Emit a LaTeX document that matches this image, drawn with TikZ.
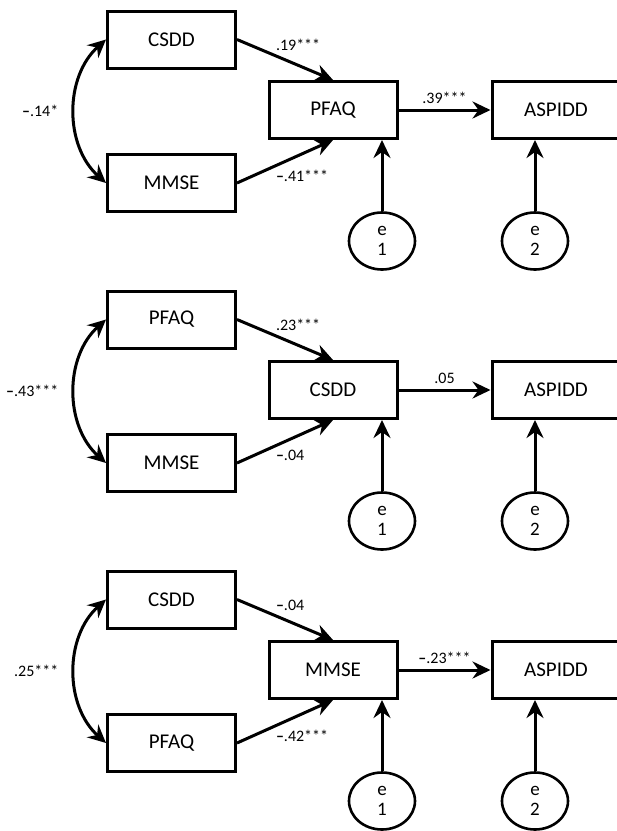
\documentclass[tikz,border=0pt]{standalone}
\usepackage{fontspec}
\setmainfont{Carlito}
\usetikzlibrary{arrows.meta,shapes.geometric}

\begin{document}
\begin{tikzpicture}[
    x=1pt, y=-1pt,
    var/.style={rectangle, draw, line width=3pt, minimum width=128pt, minimum height=57pt, inner sep=0pt, font=\fontsize{21}{24}\selectfont},
    err/.style={ellipse, draw, line width=2.6pt, minimum width=66pt, minimum height=57pt, inner sep=0pt, align=center, font=\fontsize{19}{20}\selectfont},
    reg/.style={draw, line width=3pt, -{Stealth[length=18pt, width=17pt, inset=6pt]}},
    cov/.style={draw, line width=3pt, {Stealth[length=18pt, width=17pt, inset=6pt]}-{Stealth[length=18pt, width=17pt, inset=6pt]}},
    coef/.style={font=\fontsize{16}{18}\selectfont, inner sep=2pt}
]
\useasboundingbox (0,0) rectangle (617,831);

\begin{scope}
\node[var] (csdd-a) at (171.5,39.5) {CSDD};
\node[var] (mmse-a) at (171.5,183) {MMSE};
\node[var] (pfaq-a) at (333,110) {PFAQ};
\node[var] (aspidd-a) at (556,110) {ASPIDD};
\node[err] (e1-a) at (382,241) {e\\1};
\node[err] (e2-a) at (535,241) {e\\2};
\draw[cov] (csdd-a.west) to[bend right=48] node[coef, left=13pt] {\textbf{–}.14*} (mmse-a.west);
\draw[reg] (csdd-a.east) -- node[coef, pos=.37, anchor=south west] {.19***} (pfaq-a.north);
\draw[reg] (mmse-a.east) -- node[coef, pos=.37, anchor=north west] {\textbf{–}.41***} (pfaq-a.south);
\draw[reg] (pfaq-a.east) -- node[coef, above=3pt] {.39***} (aspidd-a.west);
\draw[reg] (e1-a.north) -- (e1-a.north |- pfaq-a.south);
\draw[reg] (e2-a.north) -- (e2-a.north |- aspidd-a.south);
\end{scope}

\begin{scope}[shift={(0,280)}]
\node[var] (pfaq-b) at (171.5,39.5) {PFAQ};
\node[var] (mmse-b) at (171.5,183) {MMSE};
\node[var] (csdd-b) at (333,110) {CSDD};
\node[var] (aspidd-b) at (556,110) {ASPIDD};
\node[err] (e1-b) at (382,241) {e\\1};
\node[err] (e2-b) at (535,241) {e\\2};
\draw[cov] (pfaq-b.west) to[bend right=48] node[coef, left=13pt] {\textbf{–}.43***} (mmse-b.west);
\draw[reg] (pfaq-b.east) -- node[coef, pos=.37, anchor=south west] {.23***} (csdd-b.north);
\draw[reg] (mmse-b.east) -- node[coef, pos=.37, anchor=north west] {\textbf{–}.04} (csdd-b.south);
\draw[reg] (csdd-b.east) -- node[coef, above=3pt] {.05} (aspidd-b.west);
\draw[reg] (e1-b.north) -- (e1-b.north |- csdd-b.south);
\draw[reg] (e2-b.north) -- (e2-b.north |- aspidd-b.south);
\end{scope}

\begin{scope}[shift={(0,560)}]
\node[var] (csdd-c) at (171.5,39.5) {CSDD};
\node[var] (pfaq-c) at (171.5,183) {PFAQ};
\node[var] (mmse-c) at (333,110) {MMSE};
\node[var] (aspidd-c) at (556,110) {ASPIDD};
\node[err] (e1-c) at (382,241) {e\\1};
\node[err] (e2-c) at (535,241) {e\\2};
\draw[cov] (csdd-c.west) to[bend right=48] node[coef, left=13pt] {.25***} (pfaq-c.west);
\draw[reg] (csdd-c.east) -- node[coef, pos=.37, anchor=south west] {\textbf{–}.04} (mmse-c.north);
\draw[reg] (pfaq-c.east) -- node[coef, pos=.37, anchor=north west] {\textbf{–}.42***} (mmse-c.south);
\draw[reg] (mmse-c.east) -- node[coef, above=3pt] {\textbf{–}.23***} (aspidd-c.west);
\draw[reg] (e1-c.north) -- (e1-c.north |- mmse-c.south);
\draw[reg] (e2-c.north) -- (e2-c.north |- aspidd-c.south);
\end{scope}
\end{tikzpicture}
\end{document}
